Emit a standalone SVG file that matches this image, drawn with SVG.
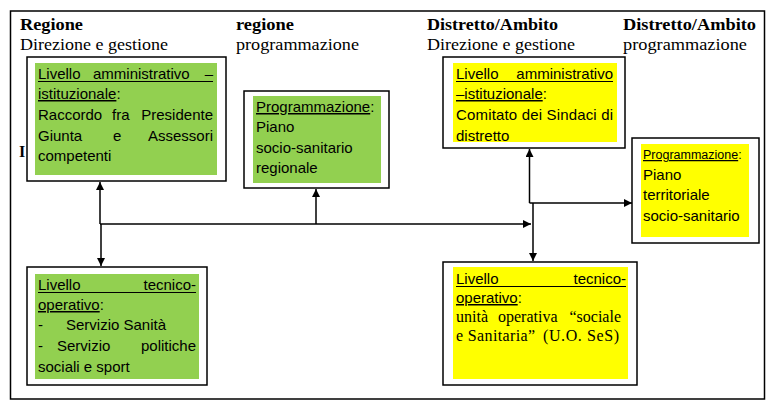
<svg xmlns="http://www.w3.org/2000/svg" width="775" height="409" viewBox="0 0 775 409">
<style>
.frame{fill:none;stroke:#000;stroke-width:1.5}
.box{fill:#fff;stroke:#000;stroke-width:1.5}
.green{fill:#92D050}
.yellow{fill:#FFFF00}
.t{font-family:"Liberation Sans",Arial,sans-serif;font-size:15px;fill:#000}
.ts{font-family:"Liberation Sans",Arial,sans-serif;font-size:12.5px;fill:#000}
.serif{font-family:"Liberation Serif","Times New Roman",serif;font-size:16px;fill:#000}
.hb{font-family:"Liberation Serif","Times New Roman",serif;font-size:16px;font-weight:bold;fill:#000}
.hr{font-family:"Liberation Serif","Times New Roman",serif;font-size:16px;fill:#000}
.u{text-decoration:underline}
.ul{stroke:#000;stroke-width:1}
.end{text-anchor:end}
.conn{fill:none;stroke:#000;stroke-width:1.5}
</style>
<defs>
<marker id="ah" viewBox="0 0 10 10" refX="10" refY="5" markerWidth="9" markerHeight="8" markerUnits="userSpaceOnUse" orient="auto">
<path d="M0,0 L10,5 L0,10 z" fill="#000"/>
</marker>
</defs>
<rect width="775" height="409" fill="#fff"/>
<rect class="frame" x="10.5" y="11" width="754" height="388"/>
<g id="headers">
<text class="hb" x="20" y="30" textLength="63" lengthAdjust="spacingAndGlyphs">Regione</text>
<text class="hr" x="20" y="50" textLength="148" lengthAdjust="spacingAndGlyphs">Direzione e gestione</text>
<text class="hb" x="236" y="30" textLength="58" lengthAdjust="spacingAndGlyphs">regione</text>
<text class="hr" x="236" y="50" textLength="123" lengthAdjust="spacingAndGlyphs">programmazione</text>
<text class="hb" x="427" y="30" textLength="131" lengthAdjust="spacingAndGlyphs">Distretto/Ambito</text>
<text class="hr" x="427" y="50" textLength="148" lengthAdjust="spacingAndGlyphs">Direzione e gestione</text>
<text class="hb" x="623" y="30" textLength="133" lengthAdjust="spacingAndGlyphs">Distretto/Ambito</text>
<text class="hr" x="623" y="50" textLength="124" lengthAdjust="spacingAndGlyphs">programmazione</text>
<text class="hb" x="19" y="157">I</text>
</g>
<g id="connectors">
<line class="conn" x1="100" y1="224" x2="100" y2="182" stroke-width="2" marker-end="url(#ah)"/>
<line class="conn" x1="101" y1="224" x2="101" y2="266" marker-end="url(#ah)"/>
<line class="conn" x1="100" y1="224" x2="531" y2="224" marker-end="url(#ah)"/>
<line class="conn" x1="316" y1="224" x2="316" y2="189" marker-end="url(#ah)"/>
<line class="conn" x1="529.5" y1="203" x2="529.5" y2="149" marker-end="url(#ah)"/>
<line class="conn" x1="529.5" y1="203" x2="632" y2="203" marker-end="url(#ah)"/>
<line class="conn" x1="533" y1="203" x2="533" y2="261" marker-end="url(#ah)"/>
</g>
<g id="reg-amministrativo">
<rect class="box" x="27" y="57" width="199" height="124"/>
<rect class="green" x="35" y="63" width="182" height="112"/>
<text class="t" x="38" y="79">Livello</text>
<text class="t" x="93" y="79">amministrativo</text>
<text class="t end" x="213" y="79">–</text>
<line class="ul" x1="38" y1="81.5" x2="213" y2="81.5"/>
<text class="t" x="38" y="99"><tspan class="u">istituzionale</tspan>:</text>
<text class="t" x="38" y="120">Raccordo</text>
<text class="t" x="112" y="120">fra</text>
<text class="t end" x="213" y="120">Presidente</text>
<text class="t" x="38" y="141">Giunta</text>
<text class="t" x="113" y="141">e</text>
<text class="t end" x="213" y="141">Assessori</text>
<text class="t" x="38" y="161">competenti</text>
</g>
<g id="reg-programmazione">
<rect class="box" x="244" y="91" width="145" height="97"/>
<rect class="green" x="253" y="96" width="128" height="87"/>
<text class="t" x="256" y="112"><tspan class="u">Programmazione</tspan>:</text>
<text class="t" x="256" y="132">Piano</text>
<text class="t" x="256" y="153">socio-sanitario</text>
<text class="t" x="256" y="173">regionale</text>
</g>
<g id="reg-tecnico">
<rect class="box" x="27" y="267" width="180" height="118"/>
<rect class="green" x="35" y="274" width="164" height="105"/>
<text class="t" x="38" y="290">Livello</text>
<text class="t end" x="196" y="290">tecnico-</text>
<line class="ul" x1="38" y1="292.5" x2="196" y2="292.5"/>
<text class="t" x="38" y="310"><tspan class="u">operativo</tspan>:</text>
<text class="t" x="38" y="330">-</text>
<text class="t" x="66" y="330">Servizio Sanità</text>
<text class="t" x="38" y="351">-</text>
<text class="t" x="57" y="351">Servizio</text>
<text class="t end" x="196" y="351">politiche</text>
<text class="t" x="38" y="372">sociali e sport</text>
</g>
<g id="dist-amministrativo">
<rect class="box" x="443" y="57" width="182" height="91"/>
<rect class="yellow" x="453" y="63" width="164" height="79"/>
<text class="t" x="456" y="79">Livello</text>
<text class="t end" x="613" y="79">amministrativo</text>
<line class="ul" x1="456" y1="81.5" x2="613" y2="81.5"/>
<text class="t" x="456" y="99"><tspan class="u">–istituzionale</tspan>:</text>
<text class="t" x="456" y="120" textLength="157" lengthAdjust="spacing">Comitato dei Sindaci di</text>
<text class="t" x="456" y="141">distretto</text>
</g>
<g id="dist-programmazione">
<rect class="box" x="632" y="138" width="127" height="105"/>
<rect class="yellow" x="641" y="144" width="108" height="93"/>
<text class="ts" x="643" y="159"><tspan class="u">Programmazione</tspan>:</text>
<text class="t" x="643" y="180">Piano</text>
<text class="t" x="643" y="200">territoriale</text>
<text class="t" x="643" y="221">socio-sanitario</text>
</g>
<g id="dist-tecnico">
<rect class="box" x="443" y="262" width="194" height="123"/>
<rect class="yellow" x="453" y="267" width="175" height="112"/>
<text class="t" x="456" y="284">Livello</text>
<text class="t end" x="626" y="284">tecnico-</text>
<line class="ul" x1="456" y1="286.5" x2="626" y2="286.5"/>
<text class="t" x="456" y="303"><tspan class="u">operativo</tspan>:</text>
<text class="serif" x="456" y="322">unità</text>
<text class="serif" x="498" y="322">operativa</text>
<text class="serif end" x="621" y="322">“sociale</text>
<text class="serif" x="456" y="341" textLength="79" lengthAdjust="spacing">e Sanitaria”</text>
<text class="serif" x="543" y="341" textLength="76" lengthAdjust="spacing">(U.O. SeS)</text>
</g>
</svg>
